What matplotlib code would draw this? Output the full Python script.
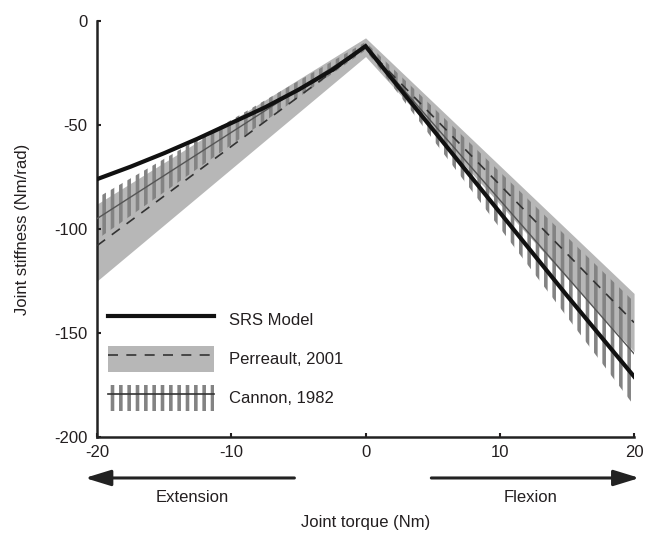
import numpy as np
import matplotlib
matplotlib.use('Agg')
import matplotlib.pyplot as plt
from matplotlib.patches import Patch
from matplotlib.lines import Line2D

plt.rcParams['font.family'] = ['Liberation Sans', 'DejaVu Sans']
plt.rcParams['axes.unicode_minus'] = False
plt.rcParams['hatch.linewidth'] = 2.6

# ---------------- data ----------------
# SRS model (black solid)
srs_x = [-20, -17.5, -15, -12.5, -10, -7.5, -5, -2.5, 0, 5, 10, 15, 20]
srs_y = [-76, -70, -63.5, -56.5, -49, -41.5, -33, -23.5, -12, -52, -92, -132, -171]

# Perreault, 2001: mean (dashed) and band
perr_x = [-20, 0, 20]
perr_mean = [-108, -12.5, -145]
perr_lo = [-125, -17, -159]
perr_hi = [-88, -8, -131]

# Cannon, 1982: mean (thin line) and hatched range
cann_x = [-20, 0, 20]
cann_mean = [-95, -12, -160]
cann_lo = [-105, -14, -185]
cann_hi = [-85, -10, -135]

BAND = '#b7b7b7'
BARS = '#838383'
TXT = '#231f20'

fig = plt.figure(figsize=(6.47, 5.44), dpi=100)
ax = fig.add_axes([0.150, 0.197, 0.830, 0.764])

ax.fill_between(perr_x, perr_lo, perr_hi, color=BAND, linewidth=0, zorder=1)
ax.fill_between(cann_x, cann_lo, cann_hi, facecolor='none', edgecolor=BARS,
                linewidth=0, hatch='||', zorder=2)
ax.plot(cann_x, cann_mean, color='#555555', lw=1.0, zorder=3)
ax.plot(perr_x, perr_mean, color='#333333', lw=1.2, dashes=(6, 5), zorder=4)
ax.plot(srs_x, srs_y, color='#111111', lw=3.0, zorder=5, solid_joinstyle='miter')

ax.set_xlim(-20, 20)
ax.set_ylim(-200, 0)
ax.set_xticks([-20, -10, 0, 10, 20])
ax.set_yticks([-200, -150, -100, -50, 0])
for s in ['top', 'right']:
    ax.spines[s].set_visible(False)
for s in ['left', 'bottom']:
    ax.spines[s].set_linewidth(1.8)
    ax.spines[s].set_color('#222222')
ax.tick_params(direction='in', length=3, width=1.5, labelsize=12, colors=TXT)
ax.tick_params(axis='x', pad=6)
ax.tick_params(axis='y', pad=7)
ax.set_ylabel('Joint stiffness (Nm/rad)', fontsize=12, color=TXT, labelpad=17)

# direction arrows and labels under the axis
trans = ax.get_xaxis_transform()
arrow = dict(arrowstyle='-|>,head_length=1.3,head_width=0.4', color='#222222',
             lw=2.2, mutation_scale=12, shrinkA=0, shrinkB=0)
ax.annotate('', xy=(-20.9, -0.099), xytext=(-5.3, -0.099), xycoords=trans,
            textcoords=trans, arrowprops=arrow, annotation_clip=False)
ax.annotate('', xy=(20.4, -0.099), xytext=(4.9, -0.099), xycoords=trans,
            textcoords=trans, arrowprops=arrow, annotation_clip=False)
ax.text(-12.9, -0.145, 'Extension', transform=trans, ha='center', va='center',
        fontsize=12, color=TXT)
ax.text(12.3, -0.145, 'Flexion', transform=trans, ha='center', va='center',
        fontsize=12, color=TXT)
ax.text(0, -0.205, 'Joint torque (Nm)', transform=trans, ha='center', va='center',
        fontsize=12, color=TXT)

# legend
h_srs = Line2D([], [], color='#111111', lw=3.0)
h_perr = (Patch(facecolor=BAND, edgecolor='none'),
          Line2D([], [], color='#333333', lw=1.2, dashes=(6, 5)))
h_cann = (Patch(facecolor='none', edgecolor=BARS, linewidth=0, hatch='||'),
          Line2D([], [], color='#333333', lw=1.2))
ax.legend([h_srs, h_perr, h_cann], ['SRS Model', 'Perreault, 2001', 'Cannon, 1982'],
          loc='upper left', bbox_to_anchor=(0.02, 0.312), frameon=False,
          fontsize=12, handlelength=6.4, handleheight=2.0, labelspacing=0.8,
          handletextpad=0.9, borderpad=0, borderaxespad=0, labelcolor=TXT)

fig.savefig('out.png', dpi=100, facecolor='white')
